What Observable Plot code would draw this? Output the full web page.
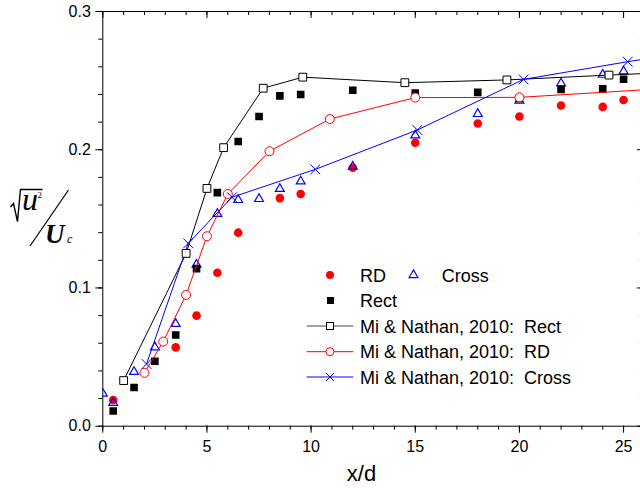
<!DOCTYPE html>
<html>
<head>
<meta charset="utf-8">
<script src="https://cdn.jsdelivr.net/npm/d3@7"></script>
<script src="https://cdn.jsdelivr.net/npm/@observablehq/plot@0.6"></script>
<style>
  html, body { margin: 0; padding: 0; background: #fff; overflow: hidden; width: 640px; height: 488px; }
  #chart svg { display: block; max-width: none !important; }
</style>
</head>
<body>
<div id="chart"></div>
<script>
// ---- data ----
const xTicks = [0, 5, 10, 15, 20, 25];
const xMinor = d3.range(0, 27, 1);
const yTicks = [0, 0.1, 0.2, 0.3];
const yMinor = d3.range(0, 0.301, 0.02).map(v => +v.toFixed(2));

const rdX = [0.5, 3.5, 4.5, 5.5, 6.5, 8.5, 9.5, 12, 15, 18, 20, 22, 24, 25];
const rdY = [0.019, 0.057, 0.080, 0.111, 0.140, 0.165, 0.168, 0.187, 0.205, 0.219, 0.224, 0.232, 0.231, 0.236];

const rectX = [0.5, 1.5, 2.5, 3.5, 4.5, 5.5, 6.5, 7.5, 8.5, 9.5, 12, 15, 18, 20, 22, 24, 25];
const rectY = [0.011, 0.028, 0.047, 0.066, 0.114, 0.169, 0.206, 0.224, 0.239, 0.240, 0.243, 0.241, 0.2415, 0.237, 0.2437, 0.244, 0.251];

const crossX = [0, 0.5, 1.5, 2.5, 3.5, 4.5, 5.5, 6.5, 7.5, 8.5, 9.5, 12, 15, 18, 20, 22, 24, 25];
const crossY = [0.0236, 0.0169, 0.0393, 0.0571, 0.074, 0.1169, 0.1536, 0.1637, 0.1644, 0.1717, 0.1771, 0.1878, 0.2104, 0.2259, 0.2355, 0.248, 0.2543, 0.2567];

const miRectX = [1, 4, 5, 5.8, 7.7, 9.6, 14.5, 19.4, 24.3, 29.5];
const miRectY = [0.033, 0.125, 0.172, 0.2015, 0.2445, 0.2525, 0.2485, 0.2505, 0.254, 0.2575];

const miRdX = [2, 2.9, 4, 5, 6, 8, 10.9, 15, 20, 30];
const miRdY = [0.0386, 0.0612, 0.095, 0.1374, 0.168, 0.1989, 0.2222, 0.2377, 0.2379, 0.247];

const miCrossX = [2.1, 4.1, 6.2, 10.2, 15.1, 20.2, 25.2, 30];
const miCrossY = [0.045, 0.1323, 0.1656, 0.1858, 0.2143, 0.2509, 0.2637, 0.275];

const legendLabels = ["RD", "Cross", "Rect", "Mi & Nathan, 2010:  Rect", "Mi & Nathan, 2010:  RD", "Mi & Nathan, 2010:  Cross"];

const tbl = (xs, ys) => xs.map((x, i) => ({x, y: ys[i]}));
const rd = tbl(rdX, rdY), rect = tbl(rectX, rectY), cross = tbl(crossX, crossY);
const miRect = tbl(miRectX, miRectY), miRd = tbl(miRdX, miRdY), miCross = tbl(miCrossX, miCrossY);

// ---- layout ----
const W = 660, H = 488;
const mL = 102.3, mT = 11, mB = H - 425.7, mR = W - 643.9;
const plotH = H - mT - mB, plotW = W - mL - mR;

const chart = Plot.plot({
  width: W, height: H,
  marginLeft: mL, marginRight: mR, marginTop: mT, marginBottom: mB,
  x: {domain: [0, 26]},
  y: {domain: [0, 0.3]},
  style: {fontFamily: "'Liberation Sans', Arial, sans-serif", fontSize: "16px", color: "#000", background: "#fff"},
  marks: [
    Plot.axisY(yTicks, {tickSize: 7, tickPadding: 5, tickFormat: d3.format(".1f"), fontSize: 16, label: null}),
    Plot.axisY(yMinor, {tickSize: 4, tickFormat: () => "", label: null}),
    Plot.axisX(xTicks, {tickSize: 7, tickPadding: 7, fontSize: 16, label: null}),
    Plot.axisX(xMinor, {tickSize: 4, tickFormat: () => "", label: null}),
    // inward ticks on top and right
    Plot.ruleX(xTicks, {x: d => d, insetBottom: plotH - 7, stroke: "#000"}),
    Plot.ruleX(xMinor, {x: d => d, insetBottom: plotH - 4, stroke: "#000"}),
    Plot.ruleY(yTicks, {y: d => d, insetLeft: plotW - 7, stroke: "#000"}),
    Plot.ruleY(yMinor, {y: d => d, insetLeft: plotW - 4, stroke: "#000"}),
    Plot.frame({stroke: "#000", strokeWidth: 1}),
    // measured data
    Plot.dot(rd, {x: "x", y: "y", r: 4.3, fill: "#ff0000", stroke: "none", clip: true}),
    Plot.dot(cross, {x: "x", y: "y", symbol: "triangle", r: 3.3, fill: "none", stroke: "#0000ff", strokeWidth: 1.2, clip: true}),
    Plot.dot(rect, {x: "x", y: "y", symbol: "square", r: 4.3, fill: "#000", stroke: "none", clip: true}),
    // Mi & Nathan 2010
    Plot.line(miRect, {x: "x", y: "y", stroke: "#000", strokeWidth: 1, clip: true}),
    Plot.line(miRd, {x: "x", y: "y", stroke: "#ff0000", strokeWidth: 1, clip: true}),
    Plot.line(miCross, {x: "x", y: "y", stroke: "#0000ff", strokeWidth: 1, clip: true}),
    Plot.dot(miRect, {x: "x", y: "y", symbol: "square", r: 4.4, fill: "#fff", stroke: "#000", strokeWidth: 1, clip: true}),
    Plot.dot(miRd, {x: "x", y: "y", r: 4.5, fill: "#fff", stroke: "#ff0000", strokeWidth: 1, clip: true}),
    Plot.dot(miCross, {x: "x", y: "y", symbol: "times", r: 4.5, stroke: "#0000ff", strokeWidth: 1, clip: true})
  ]
});
document.getElementById("chart").appendChild(chart);

// ---- axis titles & legend ----
const svg = d3.select(chart);
svg.append("text").attr("x", 361.5).attr("y", 480.5).attr("text-anchor", "middle")
  .attr("font-family", "'Liberation Sans', Arial, sans-serif").attr("font-size", 22).attr("fill", "#000").text("x/d");

const yl = svg.append("g").attr("font-family", "'Liberation Serif', 'Times New Roman', serif").attr("fill", "#000").attr("text-anchor", "start");
// radical sign and overbar
yl.append("path").attr("d", "M10.5,207 L13.5,203.5 L17.5,221.5 L20.5,189.5 L42.5,189.5")
  .attr("fill", "none").attr("stroke", "#000").attr("stroke-width", 1.4).attr("stroke-linejoin", "miter");
yl.append("text").attr("x", 22).attr("y", 210).attr("font-size", 32).attr("font-style", "italic").text("u");
yl.append("text").attr("x", 37.5).attr("y", 198).attr("font-size", 9).text("2");
yl.append("line").attr("x1", 68.5).attr("y1", 190).attr("x2", 30).attr("y2", 246).attr("stroke", "#000").attr("stroke-width", 1.3);
yl.append("text").attr("x", 45).attr("y", 243).attr("font-size", 27).attr("font-style", "italic").attr("font-weight", "bold").text("U");
yl.append("text").attr("x", 67).attr("y", 243).attr("font-size", 12).attr("font-style", "italic").text("c");

const lg = svg.append("g").attr("font-family", "'Liberation Sans', Arial, sans-serif").attr("font-size", 18).attr("fill", "#000").attr("text-anchor", "start");
const rows = [275, 300.5, 326, 351.7, 377];
const tx = 360;
// RD
lg.append("circle").attr("cx", 330).attr("cy", rows[0]).attr("r", 4).attr("fill", "#ff0000");
lg.append("text").attr("x", tx).attr("y", rows[0] + 6.6).text(legendLabels[0]);
// Cross triangle
lg.append("path").attr("transform", `translate(413.5,${rows[0]})`).attr("d", d3.symbol(d3.symbolTriangle, 34)()).attr("fill", "none").attr("stroke", "#0000ff").attr("stroke-width", 1.2);
lg.append("text").attr("x", 441.7).attr("y", rows[0] + 6.6).text(legendLabels[1]);
// Rect
lg.append("rect").attr("x", 327).attr("y", rows[1] - 3.5).attr("width", 7).attr("height", 7).attr("fill", "#000");
lg.append("text").attr("x", tx).attr("y", rows[1] + 6.6).text(legendLabels[2]);
// Mi lines
const mi = [
  {c: "#444", label: legendLabels[3]},
  {c: "#ff0000", label: legendLabels[4]},
  {c: "#0000ff", label: legendLabels[5]}
];
mi.forEach((m, i) => {
  const y = rows[2 + i];
  lg.append("line").attr("x1", 306.7).attr("x2", 353.3).attr("y1", y).attr("y2", y).attr("stroke", m.c).attr("stroke-width", 1);
  if (i === 0) lg.append("rect").attr("x", 326.5).attr("y", y - 3.5).attr("width", 7).attr("height", 7).attr("fill", "#fff").attr("stroke", "#000");
  if (i === 1) lg.append("circle").attr("cx", 330).attr("cy", y).attr("r", 4).attr("fill", "#fff").attr("stroke", "#ff0000");
  if (i === 2) lg.append("path").attr("transform", `translate(330,${y})`).attr("d", d3.symbol(d3.symbolTimes, 40)()).attr("fill", "none").attr("stroke", "#0000ff").attr("stroke-width", 1);
  lg.append("text").attr("x", tx).attr("y", y + 6.6).text(m.label);
});
</script>
</body>
</html>
